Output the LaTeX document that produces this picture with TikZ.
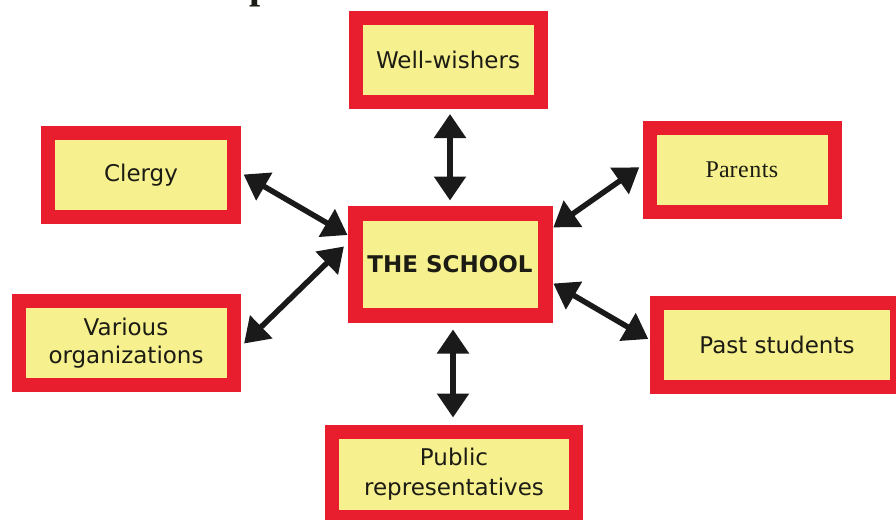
\documentclass[tikz,border=0pt]{standalone}
\usepackage{fontspec}
\setmainfont{DejaVu Sans}
\newfontfamily\serifparents{Liberation Serif}
\usetikzlibrary{arrows.meta}
\definecolor{boxred}{HTML}{E81E2E}
\definecolor{boxyellow}{HTML}{F6F08E}
\definecolor{txtdark}{HTML}{1C1C14}
\definecolor{arrowdark}{HTML}{1A1A1A}
\tikzset{
  box/.style={draw=boxred, fill=boxyellow, line width=14pt, text=txtdark,
    align=center, inner sep=0pt, font=\fontsize{23}{28}\selectfont},
  link/.style={draw=arrowdark, line width=5.5pt,
    {Triangle[width=31pt,length=24pt]}-{Triangle[width=31pt,length=24pt]}}
}
\begin{document}
\begin{tikzpicture}[x=1pt,y=-1pt]
\useasboundingbox (0,0) rectangle (896,519);
\fill[white] (0,0) rectangle (896,519);
\node[anchor=base west, inner sep=0pt, font=\serifparents\bfseries\fontsize{40}{40}\selectfont, text=txtdark] (headfrag) at (249,-1) {p};

\node[box, minimum width=185pt, minimum height=84pt] (well) at (448,60) {Well-wishers};
\node[box, line width=15pt, minimum width=190pt, minimum height=102pt, font=\bfseries\fontsize{23}{28}\selectfont] (school) at (450,264) {THE SCHOOL};
\node[box, minimum width=186pt, minimum height=84pt] (clergy) at (141,175) {Clergy};
\node[box, minimum width=185pt, minimum height=84pt, font=\serifparents\fontsize{24}{28}\selectfont] (parents) at (742,170) {Par\kern0.5pt e\kern0.5pt n\kern0.5pt t\kern0.5pt s};
\node[box, minimum width=215pt, minimum height=84pt] (various) at (126,343) {Various\\organizations};
\node[box, minimum width=240pt, minimum height=84pt] (past) at (777,345) {Past students};
\node[box, minimum width=244pt, minimum height=85pt] (public) at (454,474) {Public\\[2pt]representatives};

\draw[link, shorten <=5pt, shorten >=5pt] ([xshift=2pt]well.south) -- (school.north);
\draw[link, shorten <=7pt, shorten >=7pt] ([xshift=3pt]school.south) -- ([xshift=-1pt]public.north);
\draw[link, shorten <=3pt, shorten >=0pt] ([yshift=2pt]clergy.east) -- ([yshift=29pt]school.west);
\draw[link, shorten <=1pt, shorten >=4pt] ([yshift=36pt]school.east) -- ([yshift=5pt]parents.west);
\draw[link, shorten <=5pt, shorten >=5pt] ([yshift=-4pt]various.east) -- ([yshift=21pt]school.west);
\draw[link, shorten <=1pt, shorten >=2pt] ([yshift=-19pt]school.east) -- ([yshift=5pt]past.west);
\end{tikzpicture}
\end{document}
